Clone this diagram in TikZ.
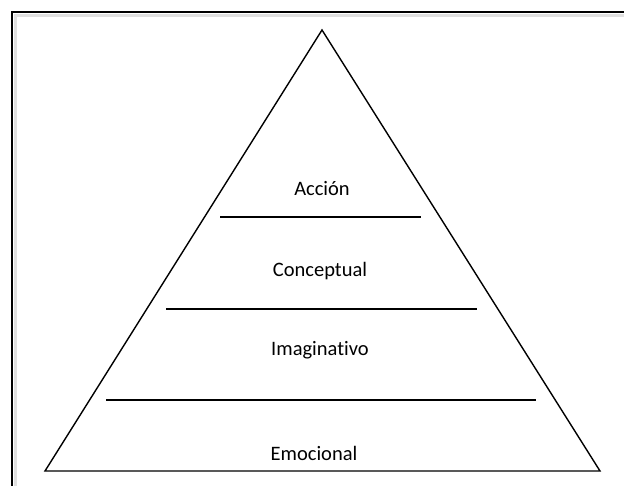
\documentclass[tikz,border=0pt]{standalone}
\usepackage{fontspec}
\setmainfont{Carlito}[Ligatures=CommonOff]
\usepackage{tikz}

\begin{document}
\begin{tikzpicture}[x=1pt, y=-1pt, line width=1.4pt]

    \useasboundingbox (0, 0) rectangle (624, 486);

    % frame
    \draw [black!12, line width=3pt, line cap=butt] (15.5, 486) -- (15.5, 15.5) -- (624, 15.5);
    \draw [line width=2pt, line cap=butt] (12, 486) -- (12, 12) -- (624, 12);

    \coordinate (top) at (322, 30);
    \coordinate (bl) at (45, 471);
    \coordinate (br) at (600, 471);

    \coordinate (a1) at (220, 217);
    \coordinate (a2) at (421, 217);
    \coordinate (b1) at (166, 309);
    \coordinate (b2) at (477, 309);
    \coordinate (c1) at (106, 400);
    \coordinate (c2) at (536, 400);

    \node (accion) at (322, 189) {\fontsize{20.5}{24}\selectfont Acción};
    \node (concep) at (320, 271) {\fontsize{20.5}{24}\selectfont Conceptual};
    \node (imag) at (320, 350) {\fontsize{20.5}{24}\selectfont Imaginativo};
    \node (emoc) at (314, 453) {\fontsize{20.5}{24}\selectfont Emocional};

    \draw [line join=miter] (top) -- (br) -- (bl) -- cycle;
    \draw [line width=1.8pt] (a1) -- (a2);
    \draw [line width=1.8pt] (b1) -- (b2);
    \draw [line width=1.8pt] (c1) -- (c2);

\end{tikzpicture}
\end{document}
